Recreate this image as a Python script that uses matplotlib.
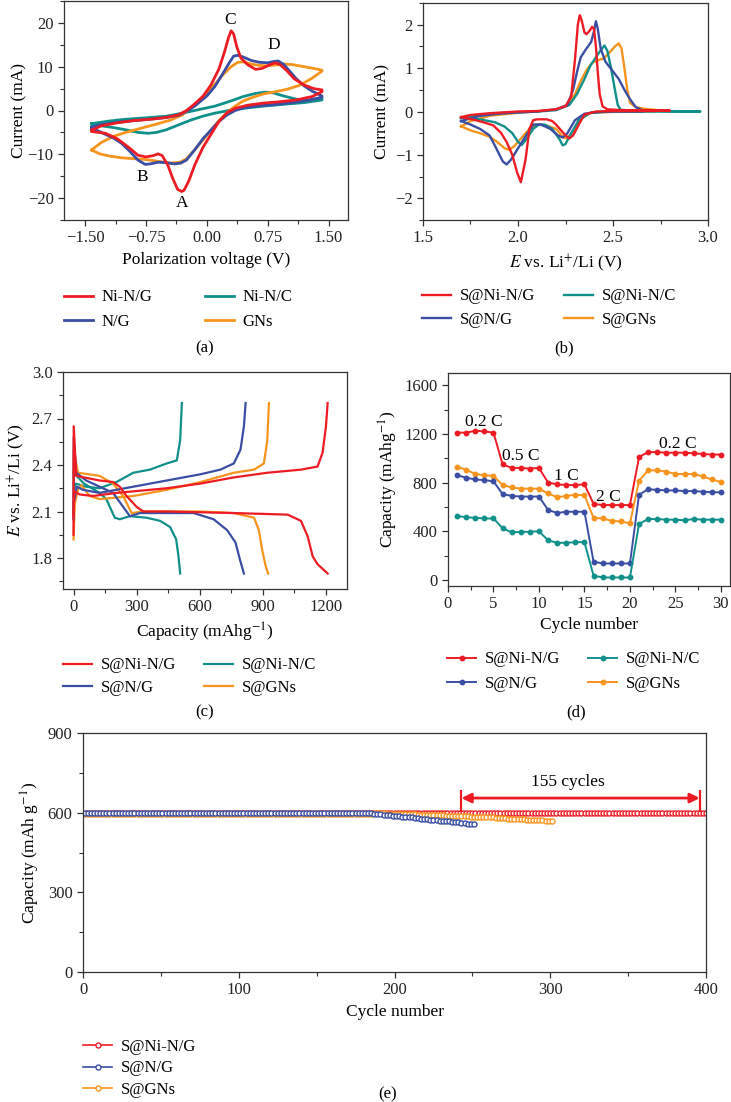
import matplotlib
matplotlib.use("Agg")
import matplotlib.pyplot as plt
import numpy as np
from matplotlib.ticker import MultipleLocator, FuncFormatter

plt.rcParams["font.family"] = ["Liberation Serif", "DejaVu Serif"]
plt.rcParams["mathtext.fontset"] = "stix"
plt.rcParams["font.size"] = 11
plt.rcParams["axes.linewidth"] = 0.9
plt.rcParams["axes.edgecolor"] = "#333333"

RED = "#ed1c24"
BLUE = "#3a4ea3"
TEAL = "#10908a"
ORANGE = "#f7941d"

# ---------------- (a) CV of the hosts ----------------
nig_v = [-1.42, -1.3, -1.1, -0.9, -0.7, -0.5, -0.35, -0.25, -0.15, -0.05, 0.05, 0.15, 0.22, 0.27, 0.30,
         0.33, 0.37, 0.42, 0.5, 0.6, 0.68, 0.76, 0.84, 0.90, 0.98, 1.08, 1.2, 1.32, 1.42,
         1.42, 1.3, 1.1, 0.9, 0.7, 0.5, 0.35, 0.25, 0.15, 0.05, -0.05, -0.15, -0.22, -0.28, -0.31,
         -0.36, -0.42, -0.48, -0.55, -0.6, -0.66, -0.75, -0.85, -0.95, -1.1, -1.25, -1.42, -1.42]
nig_i = [-4.5, -3.5, -2.8, -2.3, -2.0, -1.6, -1.0, 0.0, 1.5, 3.2, 5.8, 9.5, 13.5, 16.8, 18.2,
         17.5, 14.5, 12.0, 10.5, 9.4, 9.6, 10.3, 10.9, 10.5, 9.2, 7.2, 5.8, 5.0, 4.7,
         4.3, 3.2, 2.4, 2.0, 1.7, 1.2, 0.5, -0.5, -2.5, -5.5, -8.5, -12.5, -16.0, -18.2, -18.5,
         -18.0, -15.5, -12.5, -10.3, -9.9, -10.3, -10.6, -10.2, -8.6, -6.5, -5.2, -4.8, -4.5]

ng_v = [-1.42, -1.3, -1.1, -0.9, -0.7, -0.5, -0.35, -0.25, -0.15, 0.0, 0.1, 0.2, 0.28, 0.33, 0.38,
        0.45, 0.55, 0.65, 0.75, 0.83, 0.88, 0.95, 1.02, 1.1, 1.2, 1.3, 1.42,
        1.42, 1.2, 1.0, 0.8, 0.6, 0.45, 0.35, 0.25, 0.15, 0.05, -0.05, -0.15, -0.25, -0.32, -0.4,
        -0.5, -0.6, -0.7, -0.76, -0.85, -0.95, -1.05, -1.15, -1.3, -1.42, -1.42]
ng_i = [-3.8, -3.2, -2.7, -2.3, -2.0, -1.6, -1.1, -0.2, 1.0, 3.3, 5.5, 8.5, 11.0, 12.4, 12.6,
        12.2, 11.4, 11.0, 10.9, 11.2, 11.3, 10.5, 9.0, 7.3, 5.6, 4.4, 3.3,
        3.0, 2.2, 1.7, 1.3, 1.0, 0.6, 0.0, -1.0, -2.5, -4.5, -6.5, -9.0, -11.3, -12.0, -12.2,
        -11.9, -11.8, -12.2, -12.3, -11.3, -9.3, -7.5, -6.3, -5.0, -4.0, -3.8]

nic_v = [-1.42, -1.2, -1.0, -0.7, -0.5, -0.3, -0.1, 0.1, 0.3, 0.45, 0.6, 0.72, 0.82, 0.95, 1.1, 1.25, 1.42,
         1.42, 1.2, 1.0, 0.7, 0.5, 0.3, 0.1, -0.05, -0.2, -0.35, -0.5, -0.62, -0.72, -0.85, -1.0,
         -1.15, -1.3, -1.42, -1.42]
nic_i = [-3.0, -2.4, -2.0, -1.6, -1.3, -0.6, 0.2, 1.0, 2.2, 3.2, 3.9, 4.2, 4.0, 3.3, 2.6, 2.3, 2.6,
         2.4, 1.8, 1.5, 1.0, 0.6, 0.1, -0.6, -1.3, -2.2, -3.3, -4.4, -5.0, -5.2, -5.0, -4.4,
         -3.9, -3.5, -3.2, -3.0]

gns_v = [-1.42, -1.3, -1.15, -1.0, -0.8, -0.6, -0.45, -0.3, -0.2, -0.1, 0.0, 0.1, 0.2, 0.3, 0.38,
         0.45, 0.55, 0.65, 0.75, 0.85, 0.95, 1.05, 1.2, 1.32, 1.42,
         1.42, 1.3, 1.15, 1.0, 0.85, 0.7, 0.55, 0.45, 0.35, 0.25, 0.15, 0.05, -0.05, -0.15, -0.25,
         -0.33, -0.45, -0.6, -0.75, -0.9, -1.05, -1.2, -1.32, -1.42]
gns_i = [-9.0, -7.3, -5.9, -5.0, -4.0, -3.0, -2.2, -1.0, 0.5, 2.2, 4.0, 6.0, 8.2, 10.0, 11.0,
         11.1, 10.6, 10.3, 10.2, 10.4, 10.6, 10.5, 10.0, 9.6, 9.2,
         9.0, 7.4, 5.8, 4.9, 4.3, 3.8, 2.9, 2.2, 1.0, -0.5, -2.3, -4.5, -6.8, -9.0, -11.0,
         -11.8, -12.0, -11.6, -11.2, -11.0, -10.8, -10.4, -9.9, -9.0]

# ---------------- (b) CV of the sulfur cathodes ----------------
s_nig_v = [1.70, 1.75, 1.85, 2.0, 2.1, 2.2, 2.25, 2.28, 2.30, 2.315, 2.325, 2.335, 2.35, 2.36,
           2.375, 2.39, 2.40, 2.41, 2.42, 2.43, 2.445, 2.47, 2.55, 2.8,
           2.8, 2.5, 2.41, 2.35, 2.32, 2.29, 2.27, 2.25, 2.23, 2.2, 2.18, 2.15, 2.1, 2.08, 2.06,
           2.04, 2.015, 1.995, 1.97, 1.94, 1.91, 1.87, 1.82, 1.76, 1.70]
s_nig_i = [-0.13, -0.08, -0.04, 0.0, 0.01, 0.05, 0.12, 0.35, 1.2, 2.0, 2.22, 2.1, 1.82, 1.78,
           1.85, 1.95, 1.9, 1.5, 0.9, 0.4, 0.12, 0.05, 0.03, 0.02,
           0.02, 0.01, 0.0, -0.07, -0.3, -0.55, -0.62, -0.55, -0.45, -0.3, -0.22, -0.18, -0.18,
           -0.2, -0.4, -1.1, -1.63, -1.4, -1.0, -0.7, -0.49, -0.32, -0.25, -0.18, -0.13]

s_ng_v = [1.70, 1.8, 1.9, 2.0, 2.1, 2.2, 2.26, 2.29, 2.31, 2.33, 2.36, 2.385, 2.40, 2.41, 2.42,
          2.435, 2.46, 2.49, 2.53, 2.56, 2.59, 2.62, 2.66,
          2.66, 2.45, 2.35, 2.30, 2.26, 2.235, 2.21, 2.17, 2.12, 2.08, 2.05, 2.0, 1.965, 1.94,
          1.92, 1.88, 1.85, 1.8, 1.75, 1.70]
s_ng_i = [-0.22, -0.1, -0.05, -0.02, 0.0, 0.05, 0.15, 0.5, 0.9, 1.25, 1.45, 1.6, 1.85, 2.08, 1.9,
          1.45, 1.15, 0.98, 0.75, 0.5, 0.28, 0.1, 0.02,
          0.0, 0.0, -0.05, -0.2, -0.5, -0.6, -0.55, -0.4, -0.3, -0.3, -0.5, -0.85, -1.1, -1.22,
          -1.15, -0.8, -0.55, -0.4, -0.3, -0.22]

s_nic_v = [1.70, 1.8, 1.9, 2.0, 2.1, 2.2, 2.27, 2.31, 2.35, 2.38, 2.41, 2.43, 2.455, 2.47, 2.49,
           2.51, 2.525, 2.54, 2.6, 2.8, 2.96,
           2.96, 2.5, 2.38, 2.32, 2.28, 2.25, 2.235, 2.22, 2.18, 2.14, 2.11, 2.08, 2.05, 2.02,
           2.0, 1.97, 1.93, 1.88, 1.8, 1.70]
s_nic_i = [-0.15, -0.08, -0.04, -0.02, 0.0, 0.03, 0.15, 0.4, 0.75, 1.05, 1.25, 1.38, 1.52, 1.4, 1.0,
           0.5, 0.15, 0.04, 0.02, 0.01, 0.0,
           0.0, 0.0, -0.03, -0.2, -0.5, -0.75, -0.78, -0.65, -0.4, -0.3, -0.3, -0.4, -0.6, -0.77,
           -0.7, -0.5, -0.35, -0.25, -0.18, -0.15]

s_gns_v = [1.70, 1.75, 1.85, 2.0, 2.1, 2.2, 2.26, 2.3, 2.33, 2.36, 2.39, 2.42, 2.45, 2.48, 2.51,
           2.53, 2.545, 2.56, 2.575, 2.59, 2.62, 2.67, 2.72,
           2.72, 2.5, 2.38, 2.32, 2.29, 2.26, 2.24, 2.2, 2.15, 2.1, 2.06, 2.02, 1.98, 1.955, 1.93,
           1.89, 1.85, 1.8, 1.76, 1.72, 1.70]
s_gns_i = [-0.35, -0.22, -0.1, -0.03, 0.0, 0.05, 0.15, 0.4, 0.7, 0.95, 1.12, 1.18, 1.22, 1.35, 1.5,
           1.57, 1.45, 1.0, 0.5, 0.2, 0.1, 0.06, 0.04,
           0.0, -0.01, -0.03, -0.2, -0.45, -0.62, -0.6, -0.4, -0.32, -0.3, -0.4, -0.6, -0.8, -0.88,
           -0.85, -0.7, -0.58, -0.5, -0.45, -0.38, -0.33]

# ---------------- (c) charge/discharge profiles ----------------
dis_nig_q = [0, 1, 13, 124, 188, 220, 252, 300, 332, 443, 762, 1017, 1081, 1113, 1137, 1160, 1208]
dis_nig_e = [1.95, 2.65, 2.33, 2.30, 2.29, 2.26, 2.20, 2.13, 2.10, 2.10, 2.09, 2.08, 2.04, 1.94, 1.81, 1.76, 1.70]
chg_nig_q = [0, 4, 29, 92, 204, 443, 603, 762, 921, 1081, 1160, 1184, 1200, 1208]
chg_nig_e = [2.07, 2.23, 2.21, 2.20, 2.22, 2.25, 2.28, 2.32, 2.35, 2.37, 2.39, 2.48, 2.65, 2.80]

dis_ng_q = [0, 1, 13, 60, 124, 188, 236, 268, 316, 443, 571, 666, 730, 770, 791, 810]
dis_ng_e = [2.05, 2.58, 2.35, 2.30, 2.26, 2.22, 2.13, 2.07, 2.09, 2.09, 2.09, 2.05, 1.98, 1.90, 1.79, 1.70]
chg_ng_q = [0, 16, 45, 124, 284, 443, 603, 698, 762, 794, 810, 818]
chg_ng_e = [2.15, 2.26, 2.24, 2.22, 2.26, 2.30, 2.34, 2.37, 2.41, 2.50, 2.65, 2.80]

dis_nic_q = [0, 50, 124, 156, 196, 220, 268, 347, 411, 459, 488, 499, 507]
dis_nic_e = [2.35, 2.28, 2.22, 2.18, 2.06, 2.05, 2.07, 2.06, 2.04, 2.00, 1.92, 1.81, 1.70]
chg_nic_q = [0, 10, 60, 124, 204, 284, 363, 443, 491, 507, 515]
chg_nic_e = [2.20, 2.28, 2.26, 2.25, 2.29, 2.35, 2.37, 2.41, 2.43, 2.56, 2.80]

dis_gns_q = [0, 1, 21, 124, 188, 236, 276, 332, 603, 762, 858, 881, 897, 913, 925]
dis_gns_e = [2.05, 2.50, 2.35, 2.33, 2.28, 2.20, 2.09, 2.10, 2.10, 2.09, 2.06, 1.98, 1.85, 1.75, 1.70]
chg_gns_q = [0, 6, 21, 37, 77, 124, 284, 443, 603, 762, 858, 905, 921, 929]
chg_gns_e = [1.92, 2.15, 2.24, 2.27, 2.20, 2.18, 2.20, 2.24, 2.29, 2.35, 2.37, 2.41, 2.56, 2.80]

# ---------------- (d) rate capability ----------------
rate_cycle = np.arange(1, 31)
rate_nig = [1210, 1210, 1225, 1220, 1210, 950, 920, 920, 915, 920, 800, 785, 780, 780, 785,
            625, 615, 615, 615, 615, 1010, 1050, 1050, 1045, 1045, 1045, 1040, 1035, 1030, 1030]
rate_gns = [930, 905, 870, 860, 855, 780, 760, 750, 750, 750, 710, 680, 690, 700, 695,
            510, 505, 485, 480, 465, 815, 900, 900, 890, 870, 870, 870, 850, 825, 805]
rate_ng = [860, 840, 825, 820, 810, 705, 690, 685, 685, 685, 575, 550, 560, 560, 560,
           150, 135, 135, 135, 135, 700, 745, 740, 735, 735, 730, 730, 725, 720, 720]
rate_nic = [525, 515, 510, 505, 505, 425, 390, 395, 395, 400, 325, 305, 305, 310, 310,
            35, 20, 20, 20, 20, 460, 500, 500, 495, 495, 490, 500, 495, 495, 495]
rate_labels = ["0.2 C", "0.5 C", "1 C", "2 C", "0.2 C"]
rate_label_x = [3.9, 8.0, 13.0, 17.6, 25.3]
rate_label_y = [1300, 1015, 856, 680, 1120]

# ---------------- (e) long cycling, read every second cycle ----------------
life_nig = [600, 600, 600, 600, 600, 600, 600, 600, 600, 600, 600, 600, 600, 600, 600, 600, 600, 600, 600, 600,
            600, 600, 600, 600, 600, 600, 600, 600, 600, 600, 600, 600, 600, 600, 600, 600, 600, 600, 600, 600,
            600, 600, 600, 600, 600, 600, 600, 600, 600, 600, 600, 600, 600, 600, 600, 600, 600, 600, 600, 600,
            600, 600, 600, 600, 600, 600, 600, 600, 600, 600, 600, 600, 600, 600, 600, 600, 600, 600, 600, 600,
            600, 600, 600, 600, 600, 600, 600, 600, 600, 600, 600, 600, 600, 600, 600, 600, 600, 600, 600, 600,
            600, 600, 600, 600, 600, 600, 600, 600, 600, 600, 600, 600, 600, 600, 600, 600, 600, 600, 600, 600,
            600, 600, 600, 600, 600, 600, 600, 600, 600, 600, 600, 600, 600, 600, 600, 600, 600, 600, 600, 600,
            600, 600, 600, 600, 600, 600, 600, 600, 600, 600, 600, 600, 600, 600, 600, 600, 600, 600, 600, 600,
            600, 600, 600, 600, 600, 600, 600, 600, 600, 600, 600, 600, 600, 600, 600, 600, 600, 600, 600, 600,
            600, 600, 600, 600, 600, 600, 600, 600, 600, 600, 600, 600, 600, 600, 600, 600, 600, 600, 600, 600]
life_ng = [598, 598, 598, 598, 598, 598, 598, 598, 598, 598, 598, 598, 598, 598, 598, 598, 598, 598, 598, 598,
           598, 598, 598, 598, 598, 598, 598, 598, 598, 598, 598, 598, 598, 598, 598, 598, 598, 598, 598, 598,
           598, 598, 598, 598, 598, 598, 598, 598, 598, 598, 598, 598, 598, 598, 598, 598, 598, 598, 598, 598,
           598, 598, 598, 598, 598, 598, 598, 598, 598, 598, 598, 598, 598, 598, 598, 598, 598, 598, 598, 598,
           598, 598, 598, 598, 598, 598, 598, 598, 598, 598, 598,
           598, 597, 596, 595, 594, 593, 592, 590, 589, 588, 587, 585, 584, 583, 582, 580, 579, 578, 577,
           575, 574, 573, 572, 570, 569, 568, 567, 565, 564, 563, 562, 560, 559, 558, 557]
life_gns = [596, 596, 596, 596, 596, 596, 596, 596, 596, 596, 596, 596, 596, 596, 596, 596, 596, 596, 596, 596,
            596, 596, 596, 596, 596, 596, 596, 596, 596, 596, 596, 596, 596, 596, 596, 596, 596, 596, 596, 596,
            596, 596, 596, 596, 596, 596, 596, 596, 596, 596, 596, 596, 596, 596, 596, 596, 596, 596, 596, 596,
            596, 596, 596, 596, 596, 596, 596, 596, 596, 596, 596, 596, 596, 596, 596, 596, 596, 596, 596, 596,
            596, 596, 596, 596, 596, 596, 596, 596, 596, 596, 596, 596, 596,
            597, 597, 597, 597, 596, 596, 596, 596, 595, 595, 595, 594, 594, 594, 593, 593, 592, 592, 591, 591,
            591, 590, 590, 589, 589, 588, 588, 587, 587, 586, 586, 585, 585, 584, 584, 583, 583, 582, 582, 581,
            580, 580, 579, 578, 578, 577, 576, 576, 575, 574, 574, 573, 572, 572, 571, 570, 570, 569]
life_cyc_nig = np.arange(2, 2 * len(life_nig) + 1, 2)
life_cyc_ng = np.arange(1, 2 * len(life_ng), 2)
life_cyc_gns = np.arange(1, 2 * len(life_gns), 2)
span_start, span_end = 243, 396

W, H = 731, 1102
fig = plt.figure(figsize=(W / 100, H / 100), dpi=100)


def axes_px(left, top, right, bottom):
    return fig.add_axes([left / W, 1 - bottom / H, (right - left) / W, (bottom - top) / H])


def style(ax, xmaj, xmin, ymaj, ymin):
    ax.xaxis.set_major_locator(MultipleLocator(xmaj))
    ax.xaxis.set_minor_locator(MultipleLocator(xmin))
    ax.yaxis.set_major_locator(MultipleLocator(ymaj))
    ax.yaxis.set_minor_locator(MultipleLocator(ymin))
    ax.tick_params(which="both", direction="out", top=False, right=False, colors="#333333",
                   labelcolor="#222222", labelsize=12)
    ax.tick_params(which="major", length=4.5, width=0.9, pad=3)
    ax.tick_params(which="minor", length=2.8, width=0.8)


def column_legend(handles, labels, x, y_first, row_gap, **kw):
    n = len(handles)
    yc = y_first + row_gap * (n - 1) / 2
    fig.legend(handles, labels, loc="center left", bbox_to_anchor=(x / W, 1 - yc / H),
               frameon=False, borderpad=0, borderaxespad=0, handlelength=1.75,
               handletextpad=0.5, labelspacing=row_gap / 16.7 - 1.0, fontsize=12, **kw)


def panel_tag(text, x, y):
    fig.text(x / W, 1 - y / H, text, ha="center", va="center", fontsize=12)


minus = FuncFormatter(lambda v, p: ("%.2f" % v).replace("-", "\u2212"))

# ---- (a)
ax = axes_px(64, 1, 348, 220)
la_c, = ax.plot(nic_v, nic_i, color=TEAL, lw=2)
la_o, = ax.plot(gns_v, gns_i, color=ORANGE, lw=2)
la_b, = ax.plot(ng_v, ng_i, color=BLUE, lw=2)
la_r, = ax.plot(nig_v, nig_i, color=RED, lw=2)
ax.set_xlim(-1.76, 1.74)
ax.set_ylim(-25, 25)
style(ax, 0.75, 0.375, 10, 5)
ax.xaxis.set_major_formatter(minus)
ax.set_xlabel("Polarization voltage (V)", fontsize=12.5, labelpad=4)
ax.set_ylabel("Current (mA)", fontsize=12.5, labelpad=0)
for t, x, y in [("C", 0.29, 20.6), ("D", 0.83, 14.9), ("B", -0.8, -15.2), ("A", -0.3, -21.2)]:
    ax.text(x, y, t, ha="center", va="center", fontsize=12.5)
column_legend([la_r, la_b], ["Ni-N/G", "N/G"], 64, 297, 25)
column_legend([la_c, la_o], ["Ni-N/C", "GNs"], 205, 297, 25)
panel_tag("(a)", 205, 348)

# ---- (b)
ax = axes_px(423, 3, 708, 220)
lb_o, = ax.plot(s_gns_v, s_gns_i, color=ORANGE, lw=1.7)
lb_c, = ax.plot(s_nic_v, s_nic_i, color=TEAL, lw=1.7)
lb_b, = ax.plot(s_ng_v, s_ng_i, color=BLUE, lw=1.7)
lb_r, = ax.plot(s_nig_v, s_nig_i, color=RED, lw=1.7)
ax.set_xlim(1.5, 3.0)
ax.set_ylim(-2.5, 2.5)
style(ax, 0.5, 0.25, 1, 0.5)
ax.set_xlabel("$E$ vs. Li$^{+}$/Li (V)", fontsize=12.5, labelpad=4)
ax.set_ylabel("Current (mA)", fontsize=12.5, labelpad=3)
column_legend([lb_r, lb_b], ["S@Ni-N/G", "S@N/G"], 422, 296, 24)
column_legend([lb_c, lb_o], ["S@Ni-N/C", "S@GNs"], 564, 296, 24)
panel_tag("(b)", 564, 348)

# ---- (c)
ax = axes_px(63, 372, 347, 589)
lc_c, = ax.plot(dis_nic_q, dis_nic_e, color=TEAL, lw=1.6)
ax.plot(chg_nic_q, chg_nic_e, color=TEAL, lw=1.6)
lc_o, = ax.plot(dis_gns_q, dis_gns_e, color=ORANGE, lw=1.6)
ax.plot(chg_gns_q, chg_gns_e, color=ORANGE, lw=1.6)
lc_b, = ax.plot(dis_ng_q, dis_ng_e, color=BLUE, lw=1.6)
ax.plot(chg_ng_q, chg_ng_e, color=BLUE, lw=1.6)
lc_r, = ax.plot(dis_nig_q, dis_nig_e, color=RED, lw=1.6)
ax.plot(chg_nig_q, chg_nig_e, color=RED, lw=1.6)
ax.set_xlim(-50, 1300)
ax.set_ylim(1.6, 3.0)
style(ax, 300, 150, 0.3, 0.15)
ax.set_xlabel("Capacity (mAhg$^{-1}$)", fontsize=12.5, labelpad=4)
ax.set_ylabel("$E$ vs. Li$^{+}$/Li (V)", fontsize=12.5, labelpad=3)
column_legend([lc_r, lc_b], ["S@Ni-N/G", "S@N/G"], 63, 665, 23)
column_legend([lc_c, lc_o], ["S@Ni-N/C", "S@GNs"], 204, 665, 23)
panel_tag("(c)", 205, 712)

# ---- (d)
ax = axes_px(448, 373, 730, 586)
mk = dict(marker="o", markersize=3.2, lw=1.4)
ld_r, = ax.plot(rate_cycle, rate_nig, color=RED, **mk)
ld_o, = ax.plot(rate_cycle, rate_gns, color=ORANGE, **mk)
ld_b, = ax.plot(rate_cycle, rate_ng, color=BLUE, **mk)
ld_c, = ax.plot(rate_cycle, rate_nic, color=TEAL, **mk)
for t, x, y in zip(rate_labels, rate_label_x, rate_label_y):
    ax.text(x, y, t, ha="center", va="center", fontsize=12.5)
ax.set_xlim(0, 31)
ax.set_ylim(-50, 1700)
style(ax, 5, 2.5, 400, 200)
ax.set_xlabel("Cycle number", fontsize=12.5, labelpad=3)
ax.set_ylabel("Capacity (mAhg$^{-1}$)", fontsize=12.5, labelpad=3)
column_legend([ld_r, ld_b], ["S@Ni-N/G", "S@N/G"], 447, 659, 25)
column_legend([ld_c, ld_o], ["S@Ni-N/C", "S@GNs"], 588, 659, 25)
panel_tag("(d)", 576, 712)

# ---- (e)
ax = axes_px(83, 733, 706, 972)
mk = dict(marker="o", markersize=3.6, markerfacecolor="white", markeredgewidth=1.0, lw=1.2)
le_r, = ax.plot(life_cyc_nig, life_nig, color=RED, **mk)
le_o, = ax.plot(life_cyc_gns, life_gns, color=ORANGE, **mk)
le_b, = ax.plot(life_cyc_ng, life_ng, color=BLUE, **mk)
ax.annotate("", xy=(span_end, 655), xytext=(span_start, 655),
            arrowprops=dict(arrowstyle="<|-|>", color=RED, lw=2, mutation_scale=14,
                            shrinkA=0, shrinkB=0))
ax.vlines([span_start, span_end], 603, 687, color=RED, lw=1.6)
ax.text(311, 715, "155 cycles", ha="center", va="center", fontsize=12.5)
ax.set_xlim(0, 400)
ax.set_ylim(0, 900)
style(ax, 100, 50, 300, 150)
ax.set_xlabel("Cycle number", fontsize=12.5, labelpad=4)
ax.set_ylabel("Capacity (mAh g$^{-1}$)", fontsize=12.5, labelpad=4)
column_legend([le_r, le_b, le_o], ["S@Ni-N/G", "S@N/G", "S@GNs"], 83, 1046, 22.5)
panel_tag("(e)", 388, 1094)

fig.savefig("out.png", dpi=100)
